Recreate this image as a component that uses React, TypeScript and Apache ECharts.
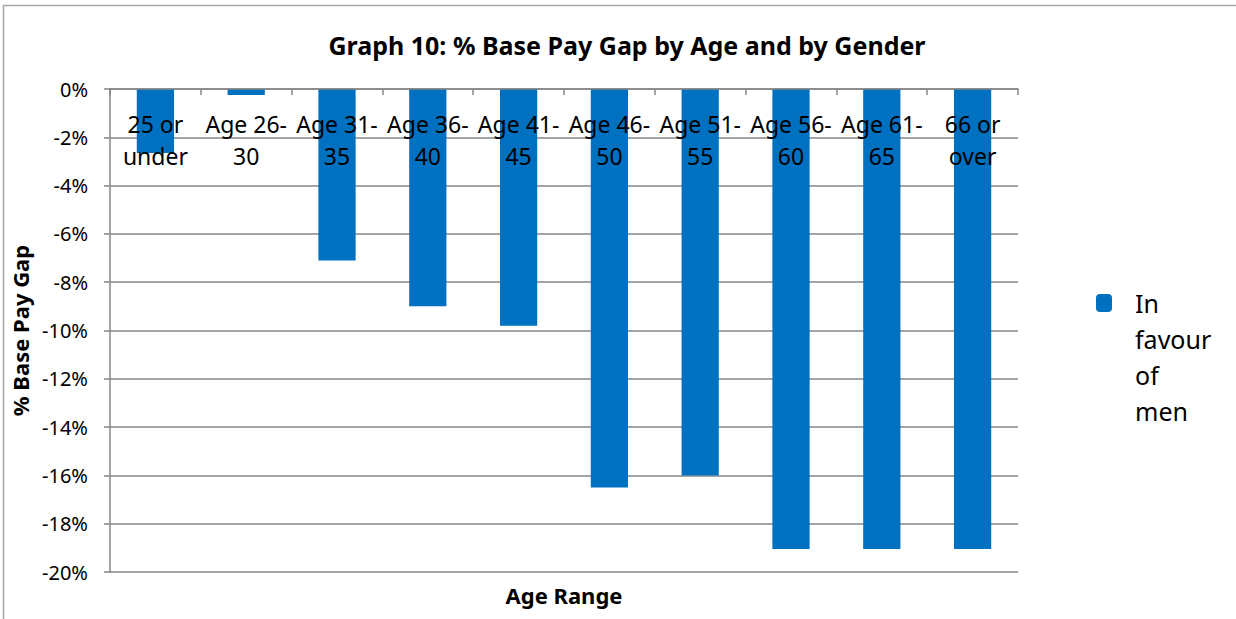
import React, { useEffect, useRef } from "react";
import * as echarts from "echarts";

const categories = [
  "25 or under",
  "Age 26-30",
  "Age 31-35",
  "Age 36-40",
  "Age 41-45",
  "Age 46-50",
  "Age 51-55",
  "Age 56-60",
  "Age 61-65",
  "66 or over",
];
const seriesName = "In favour of men";
const gapValues = [-2.65, -0.25, -7.1, -9.0, -9.8, -16.5, -16.0, -19.05, -19.05, -19.05];
const yTicks = { min: -20, max: 0, interval: 2 };

const FONT = "'Noto Sans', 'Open Sans', sans-serif";
const GRID_COLOR = "#868686";

const wrapLabel = (s: string) =>
  s.includes("-") ? s.replace("-", "-\n") : s.replace(" or ", " or\n");

export default function App() {
  const ref = useRef<HTMLDivElement>(null);
  useEffect(() => {
    if (!ref.current) return;
    const chart = echarts.init(ref.current, undefined, { renderer: "svg" });
    chart.setOption({
      animation: false,
      backgroundColor: "#ffffff",
      textStyle: { fontFamily: FONT },
      title: {
        text: "Graph 10: % Base Pay Gap by Age and by Gender",
        left: 622,
        textAlign: "center",
        top: 27,
        textStyle: { fontFamily: FONT, fontSize: 25, fontWeight: "bold", color: "#000" },
      },
      graphic: [
        {
          type: "rect",
          shape: { x: 3.5, y: 5.5, width: 1400, height: 800 },
          style: { fill: "none", stroke: "#a6a6a6", lineWidth: 1.5 },
          silent: true,
        },
      ],
      legend: {
        data: [seriesName],
        orient: "vertical",
        left: 1096,
        top: 177,
        padding: 0,
        icon: "roundRect",
        itemWidth: 16,
        itemHeight: 18,
        formatter: (n: string) => "\n\n\n" + n.split(" ").join("\n"),
        textStyle: {
          fontFamily: FONT,
          fontSize: 25,
          color: "#000",
          lineHeight: 36,
          padding: [0, 0, 0, 18],
        },
      },
      grid: {
        left: 110,
        right: 218,
        top: 89,
        bottom: 47,
        containLabel: false,
        outerBoundsMode: "none",
      },
      xAxis: [
        {
          type: "category",
          data: categories,
          position: "top",
          z: 10,
          axisLine: { show: true, onZero: false, lineStyle: { color: GRID_COLOR, width: 1.5 } },
          axisTick: { show: true, inside: true, length: 6, lineStyle: { color: GRID_COLOR, width: 1.5 } },
          axisLabel: {
            inside: true,
            interval: 0,
            margin: 19,
            fontFamily: FONT,
            fontSize: 23,
            lineHeight: 32,
            color: "#000",
            formatter: wrapLabel,
          },
        },
        {
          type: "category",
          data: categories,
          position: "bottom",
          name: "Age Range",
          nameLocation: "middle",
          nameGap: 12,
          nameTextStyle: { fontFamily: FONT, fontSize: 22, fontWeight: "bold", color: "#000" },
          axisLine: { show: false, onZero: false },
          axisTick: { show: false },
          axisLabel: { show: false },
          splitLine: { show: false },
        },
      ],
      yAxis: {
        type: "value",
        min: yTicks.min,
        max: yTicks.max,
        interval: yTicks.interval,
        name: "% Base Pay Gap",
        nameLocation: "middle",
        nameGap: 78,
        nameTextStyle: { fontFamily: FONT, fontSize: 22, fontWeight: "bold", color: "#000" },
        axisLine: { show: true, lineStyle: { color: GRID_COLOR, width: 1.5 } },
        axisTick: { show: true, length: 6, lineStyle: { color: GRID_COLOR, width: 1.5 } },
        axisLabel: {
          margin: 22,
          fontFamily: FONT,
          fontSize: 20,
          color: "#000",
          formatter: (v: number) => `${v}%`,
        },
        splitLine: { show: true, lineStyle: { color: GRID_COLOR, width: 1.5 } },
      },
      series: [
        {
          name: seriesName,
          type: "bar",
          xAxisIndex: 0,
          data: gapValues,
          barWidth: "41%",
          itemStyle: { color: "#0070C0" },
        },
      ],
    });
    return () => chart.dispose();
  }, []);
  return (
    <div
      ref={ref}
      style={{ position: "fixed", left: 0, top: 0, width: 1236, height: 619 }}
    />
  );
}
